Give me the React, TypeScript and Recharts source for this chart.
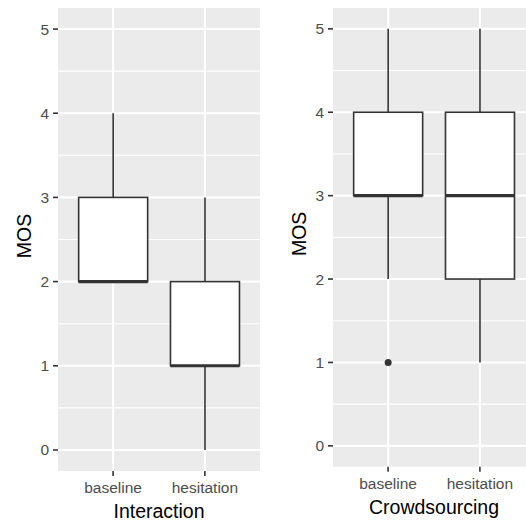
import React from 'react';
import {
  ComposedChart,
  Bar,
  XAxis,
  YAxis,
  CartesianGrid,
  Label,
} from 'recharts';

// Shared categories and axis ticks
const categories = ['baseline', 'hesitation'];
const majorTicks = [0, 1, 2, 3, 4, 5];
const minorTicks = [0.5, 1.5, 2.5, 3.5, 4.5];
const yDomain = [-0.25, 5.25];

// Interaction: five-number summaries per condition
const interactionMin = [2, 0];
const interactionQ1 = [2, 1];
const interactionMedian = [2, 1];
const interactionQ3 = [3, 2];
const interactionMax = [4, 3];
const interactionOutliers: number[][] = [[], []];

// Crowdsourcing: five-number summaries per condition
const crowdMin = [2, 1];
const crowdQ1 = [3, 2];
const crowdMedian = [3, 3];
const crowdQ3 = [4, 4];
const crowdMax = [5, 5];
const crowdOutliers: number[][] = [[1], []];

type Row = {
  name: string;
  pos: number;
  min: number;
  q1: number;
  median: number;
  q3: number;
  max: number;
  outliers: number[];
};

const buildRows = (
  mins: number[],
  q1s: number[],
  medians: number[],
  q3s: number[],
  maxs: number[],
  outs: number[][]
): Row[] =>
  categories.map((name, i) => ({
    name,
    pos: i + 1,
    min: mins[i],
    q1: q1s[i],
    median: medians[i],
    q3: q3s[i],
    max: maxs[i],
    outliers: outs[i],
  }));

const interactionRows = buildRows(
  interactionMin,
  interactionQ1,
  interactionMedian,
  interactionQ3,
  interactionMax,
  interactionOutliers
);
const crowdRows = buildRows(crowdMin, crowdQ1, crowdMedian, crowdQ3, crowdMax, crowdOutliers);

const INK = '#333333';
const FONT = '"Liberation Sans", Arial, sans-serif';

// The bar spans the whisker range [min, max]; the box, median and
// outliers are placed on the same scale that the bar was drawn with.
const BoxShape = (props: any) => {
  const { x, y, width, height, payload } = props;
  const { min, q1, median, q3, max, outliers } = payload as Row;
  const py = (v: number) => y + ((max - v) / (max - min)) * height;
  const cx = x + width / 2;
  return (
    <g>
      <line x1={cx} x2={cx} y1={py(max)} y2={py(q3)} stroke={INK} strokeWidth={1.6} />
      <line x1={cx} x2={cx} y1={py(q1)} y2={py(min)} stroke={INK} strokeWidth={1.6} />
      <rect
        x={x}
        y={py(q3)}
        width={width}
        height={py(q1) - py(q3)}
        fill="#FFFFFF"
        stroke={INK}
        strokeWidth={1.6}
      />
      <line x1={x} x2={x + width} y1={py(median)} y2={py(median)} stroke={INK} strokeWidth={3.2} />
      {outliers.map((o, i) => (
        <circle key={i} cx={cx} cy={py(o)} r={3.5} fill={INK} />
      ))}
    </g>
  );
};

const YTitle = ({ viewBox, dx, dy }: any) => {
  const cx = viewBox.x + dx;
  const cy = viewBox.y + viewBox.height / 2 + dy;
  return (
    <text
      x={cx}
      y={cy}
      dy="0.355em"
      transform={`rotate(-90 ${cx} ${cy})`}
      textAnchor="middle"
      fontFamily={FONT}
      fontSize={19.5}
      fill="#000000"
    >
      MOS
    </text>
  );
};

const XTitle = ({ viewBox, value, fromBottom }: any) => (
  <text
    x={viewBox.x + viewBox.width / 2}
    y={viewBox.y + viewBox.height - fromBottom}
    textAnchor="middle"
    fontFamily={FONT}
    fontSize={19.5}
    fill="#000000"
  >
    {value}
  </text>
);

type PanelProps = {
  rows: Row[];
  title: string;
  width: number;
  yAxisWidth: number;
  xAxisHeight: number;
  yTitleX: number;
  titleFromBottom: number;
};

const Panel = ({ rows, title, width, yAxisWidth, xAxisHeight, yTitleX, titleFromBottom }: PanelProps) => (
  <ComposedChart
    width={width}
    height={522}
    data={rows}
    margin={{ top: 8, right: 0, bottom: 0, left: 0 }}
    barCategoryGap="12.5%"
  >
    <CartesianGrid
      fill="#EBEBEB"
      stroke="#FFFFFF"
      strokeWidth={1.07}
      vertical={false}
      horizontalValues={minorTicks}
    />
    <CartesianGrid
      stroke="#FFFFFF"
      strokeWidth={2.13}
      horizontalValues={majorTicks}
      verticalValues={[1, 2]}
    />
    <XAxis
      type="number"
      dataKey="pos"
      domain={[0.4, 2.6]}
      ticks={[1, 2]}
      allowDataOverflow
      height={xAxisHeight}
      axisLine={false}
      tickLine={{ stroke: INK, strokeWidth: 1.6 }}
      tickSize={5}
      tickMargin={6}
      tickFormatter={(v: number) => categories[v - 1]}
      tick={{ fill: '#4D4D4D', fontSize: 15.5, fontFamily: FONT }}
    >
      <Label content={<XTitle value={title} fromBottom={titleFromBottom} />} />
    </XAxis>
    <YAxis
      type="number"
      domain={yDomain}
      ticks={majorTicks}
      allowDataOverflow
      width={yAxisWidth}
      axisLine={false}
      tickLine={{ stroke: INK, strokeWidth: 1.6 }}
      tickSize={5}
      tickMargin={4}
      tick={{ fill: '#4D4D4D', fontSize: 15.5, fontFamily: FONT }}
    >
      <Label content={<YTitle dx={yTitleX} dy={-3.5} />} />
    </YAxis>
    <Bar
      dataKey={(d: Row) => [d.min, d.max]}
      shape={<BoxShape />}
      isAnimationActive={false}
    />
  </ComposedChart>
);

export default function App() {
  return (
    <div
      style={{
        position: 'absolute',
        left: 0,
        top: 0,
        width: 526,
        height: 522,
        overflow: 'hidden',
        background: '#FFFFFF',
      }}
    >
      <div style={{ position: 'absolute', left: 0, top: 0 }}>
        <Panel
          rows={interactionRows}
          title="Interaction"
          width={260}
          yAxisWidth={58}
          xAxisHeight={51}
          yTitleX={24}
          titleFromBottom={3.7}
        />
      </div>
      <div style={{ position: 'absolute', left: 263, top: 0 }}>
        <Panel
          rows={crowdRows}
          title="Crowdsourcing"
          width={272}
          yAxisWidth={70}
          xAxisHeight={55.3}
          yTitleX={36}
          titleFromBottom={8.5}
        />
      </div>
    </div>
  );
}
